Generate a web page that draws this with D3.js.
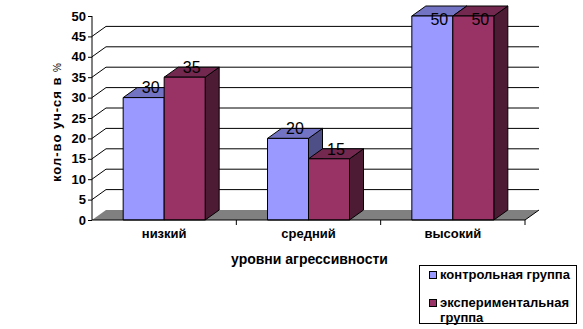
<!DOCTYPE html>
<html><head><meta charset="utf-8">
<script src="https://cdn.jsdelivr.net/npm/d3@7"></script>
<style>
body{margin:0;background:#fff;}
svg{display:block;font-family:"Liberation Sans",Arial,sans-serif;}
</style></head>
<body>
<script>
const categories = ["низкий", "средний", "высокий"];
const seriesNames = ["контрольная группа", "экспериментальная группа"];
const control = [30, 20, 50];
const experimental = [35, 15, 50];
const yTicks = [0, 5, 10, 15, 20, 25, 30, 35, 40, 45, 50];

const W = 583, H = 329;
const svg = d3.select("body").append("svg").attr("width", W).attr("height", H);

const x0 = 92, x1 = 525, yBottom = 220, yTop = 16;
const DX = 14, DY = -10;
const y = d3.scaleLinear().domain([0, 50]).range([yBottom, yTop]);
const xc = d3.scaleBand().domain(categories).range([x0, x1]).padding(0);
const bw = xc.bandwidth();
const xs = d3.scaleBand().domain([0, 1]).range([(bw - 82) / 2, (bw + 82) / 2]).padding(0);

const colors = [
  {front: "#9999FF", top: "#7373C4", side: "#4F4F88"},
  {front: "#993366", top: "#72284F", side: "#4E1B35"}
];

// back wall gridlines and side wall diagonals
const grid = yTicks.filter(t => t > 0 && t < 50);
svg.append("g").selectAll("path").data(grid).join("path")
  .attr("d", t => `M${x0},${y(t)}L${x0 + DX},${y(t) + DY}L${x1 + DX},${y(t) + DY}`)
  .attr("fill", "none").attr("stroke", "#000").attr("stroke-width", 1);

// floor
svg.append("path")
  .attr("d", `M${x0},${yBottom}L${x0 + DX},${yBottom + DY}L${x1 + DX},${yBottom + DY}L${x1},${yBottom}Z`)
  .attr("fill", "#808080");
svg.append("path")
  .attr("d", `M${x1},${yBottom}L${x1 + DX},${yBottom + DY}`)
  .attr("stroke", "#000").attr("fill", "none");

// bars
const data = [];
categories.forEach((c, i) => {
  [control[i], experimental[i]].forEach((v, s) => data.push({c, s, v}));
});
const bars = svg.append("g");
data.forEach(d => {
  const xl = xc(d.c) + xs(d.s), xr = xl + xs.bandwidth();
  const yt = y(d.v), yb = y(0);
  const g = bars.append("g").attr("stroke", "#000").attr("stroke-width", 1).attr("stroke-linejoin", "round");
  g.append("path").attr("fill", colors[d.s].side)
    .attr("d", `M${xr},${yt}L${xr + DX},${yt + DY}L${xr + DX},${yb + DY}L${xr},${yb}Z`);
  g.append("path").attr("fill", colors[d.s].top)
    .attr("d", `M${xl},${yt}L${xl + DX},${yt + DY}L${xr + DX},${yt + DY}L${xr},${yt}Z`);
  g.append("rect").attr("fill", colors[d.s].front)
    .attr("x", xl).attr("y", yt).attr("width", xr - xl).attr("height", yb - yt);
});

// data labels
svg.append("g").selectAll("text").data(data).join("text")
  .attr("x", d => xc(d.c) + xs(d.s) + xs.bandwidth() / 2 + DX / 2)
  .attr("y", d => Math.max(y(d.v) - 10, y(50) + 3))
  .attr("dy", "0.36em")
  .attr("text-anchor", "middle")
  .attr("font-size", 16).attr("fill", "#000")
  .text(d => d.v);

// y axis
const yAxis = svg.append("g").attr("transform", `translate(${x0},0)`)
  .call(d3.axisLeft(y).tickValues(yTicks).tickSize(4).tickPadding(2));
yAxis.select(".domain").attr("stroke", "#000").attr("d", `M0,${yTop}V${yBottom}`);
yAxis.selectAll(".tick line").attr("stroke", "#000");
yAxis.selectAll(".tick text").attr("font-size", 13).attr("font-weight", "bold")
  .attr("font-family", "'Liberation Sans',Arial,sans-serif").attr("fill", "#000");

// x axis
const xAxis = svg.append("g").attr("transform", `translate(0,${yBottom})`)
  .call(d3.axisBottom(xc).tickSize(0).tickPadding(9));
xAxis.select(".domain").attr("stroke", "#000").attr("d", `M${x0},0H${x1}`);
xAxis.selectAll(".tick text").attr("font-size", 13).attr("font-weight", "bold")
  .attr("font-family", "'Liberation Sans',Arial,sans-serif").attr("fill", "#000");
svg.append("g").selectAll("line").data(categories).join("line")
  .attr("x1", c => xc(c) + bw).attr("x2", c => xc(c) + bw)
  .attr("y1", yBottom).attr("y2", yBottom + 5).attr("stroke", "#000");

// axis titles
svg.append("text").attr("x", (x0 + x1) / 2 + 1).attr("y", 264)
  .attr("text-anchor", "middle").attr("font-size", 14).attr("font-weight", "bold")
  .text("уровни агрессивности");
const yt = svg.append("text").attr("transform", `translate(61,${(yTop + yBottom) / 2 + 4}) rotate(-90)`)
  .attr("text-anchor", "middle").attr("font-size", 13).attr("font-weight", "bold")
  .attr("letter-spacing", 1);
yt.append("tspan").text("кол-во уч-ся в ");
yt.append("tspan").attr("font-weight", "normal").attr("font-size", 10).text("%");

// legend
const lg = svg.append("g");
lg.append("rect").attr("x", 419.5).attr("y", 265.5).attr("width", 157).attr("height", 58)
  .attr("fill", "#fff").attr("stroke", "#000");
const legendLines = [["контрольная группа"], ["экспериментальная", "группа"]];
const legendY = [279, 307];
seriesNames.forEach((n, i) => {
  lg.append("rect").attr("x", 429.5).attr("y", legendY[i] - 7.5).attr("width", 7).attr("height", 7)
    .attr("fill", colors[i].front).attr("stroke", "#000");
  const t = lg.append("text").attr("x", 440).attr("y", legendY[i])
    .attr("font-size", 13).attr("font-weight", "bold");
  legendLines[i].forEach((l, j) => t.append("tspan").attr("x", 440).attr("dy", j ? 15 : 0).text(l));
});
</script>
</body></html>
